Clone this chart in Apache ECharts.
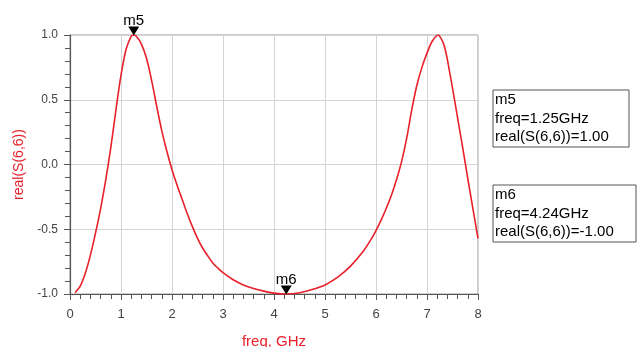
<!DOCTYPE html>
<html>
<head>
<meta charset="utf-8">
<script src="https://cdn.jsdelivr.net/npm/echarts@6/dist/echarts.min.js"></script>
<style>html,body{margin:0;padding:0;background:#fff;}#c{width:638px;height:347px;}</style>
</head>
<body>
<div id="c"></div>
<script>
var freq = [0.10,0.20,0.30,0.40,0.50,0.60,0.70,0.80,0.90,1.00,1.10,1.20,1.25,1.30,1.40,1.50,1.60,1.70,1.80,1.90,2.00,2.10,2.20,2.30,2.40,2.50,2.60,2.70,2.80,2.90,3.00,3.20,3.40,3.60,3.80,4.00,4.24,4.50,4.75,5.00,5.25,5.50,5.75,5.90,6.00,6.10,6.20,6.30,6.40,6.50,6.60,6.70,6.80,6.90,7.00,7.10,7.22,7.30,7.35,7.40,7.45,7.50,7.60,7.70,7.80,7.90,8.00];
var realS66 = [-0.99,-0.94,-0.84,-0.70,-0.53,-0.34,-0.12,0.13,0.42,0.69,0.89,0.99,1.00,0.99,0.93,0.82,0.65,0.45,0.26,0.10,-0.04,-0.16,-0.27,-0.38,-0.48,-0.57,-0.645,-0.705,-0.76,-0.80,-0.835,-0.89,-0.93,-0.958,-0.978,-0.993,-1.00,-0.99,-0.965,-0.93,-0.87,-0.785,-0.67,-0.58,-0.51,-0.43,-0.34,-0.24,-0.12,0.02,0.20,0.42,0.61,0.75,0.86,0.95,1.00,0.955,0.90,0.81,0.70,0.59,0.36,0.13,-0.11,-0.34,-0.57];
var markerNames = ['m5','m6'];
var markerFreq = [1.25, 4.24];
var markerVal = [1.00, -1.00];
var markerText = [
  ['m5','freq=1.25GHz','real(S(6,6))=1.00'],
  ['m6','freq=4.24GHz','real(S(6,6))=-1.00']
];

var FONT = '"Liberation Sans", Arial, sans-serif';
var RED = '#e8202a';
var data = freq.map(function(f,i){return [f, realS66[i]];});

var chart = echarts.init(document.getElementById('c'), null, {renderer:'canvas'});
chart.setOption({
  animation: false,
  grid: {left: 70, right: 160, top: 35, bottom: 53, containLabel: false, outerBoundsMode: 'none', show: true, borderColor: '#9a9a9a', borderWidth: 1},
  xAxis: {
    type: 'value', min: 0, max: 8, interval: 1,
    name: 'freq, GHz', nameLocation: 'middle', nameGap: 40,
    nameTextStyle: {color: RED, fontSize: 15, fontFamily: FONT},
    axisLine: {onZero: false, lineStyle: {color: '#555', width: 1.2}},
    axisTick: {show: true, length: 6, lineStyle: {color: '#555'}},
    minorTick: {show: true, splitNumber: 5, length: 5, lineStyle: {color: '#555'}},
    axisLabel: {color: '#444', fontSize: 13, fontFamily: FONT, margin: 14},
    splitLine: {show: true, lineStyle: {color: '#d4d4d4', width: 1}}
  },
  yAxis: {
    type: 'value', min: -1, max: 1, interval: 0.5,
    name: 'real(S(6,6))', nameLocation: 'middle', nameGap: 44,
    nameTextStyle: {color: RED, fontSize: 14, fontFamily: FONT},
    axisLine: {show: true, onZero: false, lineStyle: {color: '#555', width: 1.2}},
    axisTick: {show: true, length: 6, lineStyle: {color: '#555'}},
    minorTick: {show: true, splitNumber: 5, length: 5, lineStyle: {color: '#555'}},
    axisLabel: {color: '#444', fontSize: 12, fontFamily: FONT, margin: 12, formatter: function(v){return v.toFixed(1);}},
    splitLine: {show: true, lineStyle: {color: '#d4d4d4', width: 1}}
  },
  series: [{
    type: 'line',
    data: data,
    smooth: 0.3,
    showSymbol: false,
    lineStyle: {color: RED, width: 1.6},
    markPoint: {
      symbol: 'triangle',
      symbolSize: [11, 9],
      symbolRotate: 180,
      symbolOffset: [0, -4],
      itemStyle: {color: '#000'},
      label: {show: true, position: 'top', distance: -2, color: '#000', fontSize: 15, fontFamily: FONT, formatter: function(p){return p.name;}},
      data: markerNames.map(function(n,i){return {name: n, coord: [markerFreq[i], markerVal[i]]};})
    }
  }],
  graphic: [
    {type: 'rect', shape: {x: 493, y: 90, width: 136, height: 57}, style: {fill: '#fff', stroke: '#555', lineWidth: 1}},
    {type: 'text', left: 495, top: 91, style: {text: markerText[0].join('\n'), fill: '#000', fontSize: 15, lineHeight: 18.5, fontFamily: FONT}},
    {type: 'rect', shape: {x: 493, y: 185, width: 143, height: 57}, style: {fill: '#fff', stroke: '#555', lineWidth: 1}},
    {type: 'text', left: 495, top: 186, style: {text: markerText[1].join('\n'), fill: '#000', fontSize: 15, lineHeight: 18.5, fontFamily: FONT}}
  ]
});
</script>
</body>
</html>
